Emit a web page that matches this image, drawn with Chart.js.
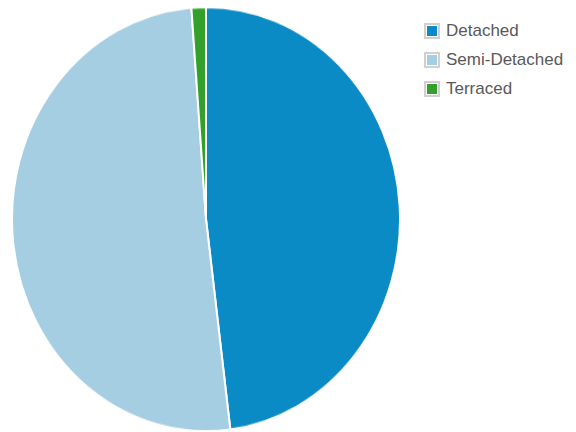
<!DOCTYPE html>
<html lang="en">
<head>
    <meta charset="UTF-8">
    <title>Property Types</title>
    <script src="https://cdn.jsdelivr.net/npm/chart.js"></script>
    <style>
        body {
            margin: 0;
            padding: 0;
            background-color: #ffffff;
            width: 576px;
            height: 432px;
            overflow: hidden;
            position: relative;
            font-family: "Liberation Sans", Arial, sans-serif;
        }

        /* the original pie is a little taller than wide, so stretch it */
        #chart-box {
            position: absolute;
            left: 11px;
            top: 6px;
            width: 390px;
            height: 390px;
            transform-origin: 0 0;
            transform: scaleY(1.093);
        }

        #legend {
            position: absolute;
            left: 424px;
            top: 16px;
        }

        .legend-row {
            display: flex;
            align-items: center;
            height: 29px;
        }

        .legend-box {
            width: 12px;
            height: 12px;
            border: 2px solid #d0d0d0;
            box-shadow: inset 0 0 0 1px #ffffff;
            margin-right: 6px;
        }

        .legend-text {
            font-size: 17px;
            color: #595959;
        }
    </style>
</head>
<body>
    <div id="chart-box">
        <canvas id="pie-chart"></canvas>
    </div>
    <div id="legend"></div>
    <script>
        const categories = ["Detached", "Semi-Detached", "Terraced"];
        const values = [48.0, 50.8, 1.2];
        const colors = ["#0a8bc5", "#a6cee3", "#33a02c"];

        // build legend
        const legend = document.getElementById("legend");
        categories.forEach((name, i) => {
            const row = document.createElement("div");
            row.className = "legend-row";
            const box = document.createElement("div");
            box.className = "legend-box";
            box.style.backgroundColor = colors[i];
            const text = document.createElement("span");
            text.className = "legend-text";
            text.textContent = name;
            row.appendChild(box);
            row.appendChild(text);
            legend.appendChild(row);
        });

        const ctx = document.getElementById("pie-chart").getContext("2d");

        new Chart(ctx, {
            type: "pie",
            data: {
                labels: categories,
                datasets: [{
                    data: values,
                    backgroundColor: colors,
                    borderColor: "#ffffff",
                    borderWidth: 2
                }]
            },
            options: {
                responsive: true,
                maintainAspectRatio: false,
                animation: false,
                layout: { padding: 0 },
                plugins: {
                    legend: { display: false },
                    tooltip: { enabled: false }
                }
            }
        });
    </script>
</body>
</html>
